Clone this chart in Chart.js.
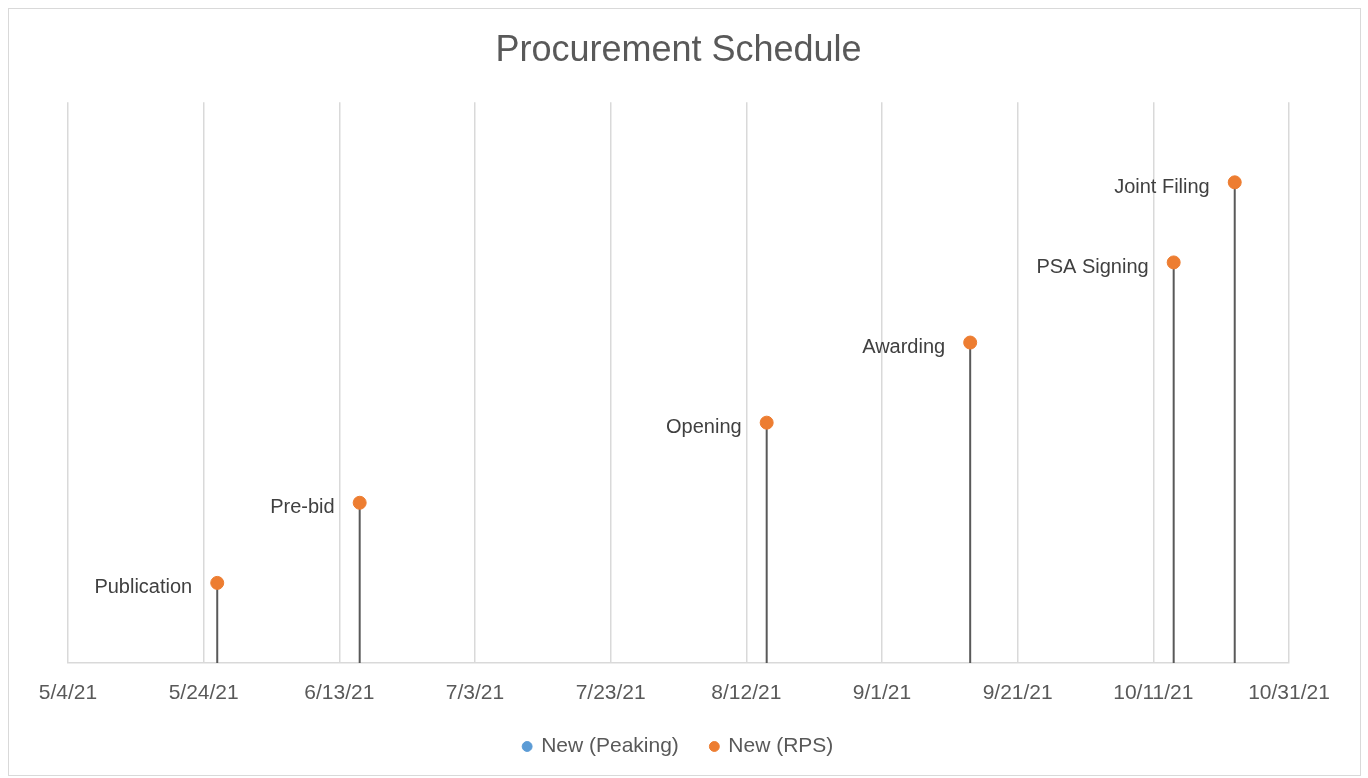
<!DOCTYPE html>
<html>
<head>
<meta charset="utf-8">
<script src="https://cdn.jsdelivr.net/npm/chart.js@4.4.1/dist/chart.umd.min.js"></script>
<style>
  body { margin: 0; background: #fff; }
  #wrap { position: relative; width: 1368px; height: 778px; }
  #frame { position: absolute; left: 8px; top: 8px; width: 1351px; height: 766px; border: 1px solid #d9d9d9; pointer-events: none; }
</style>
</head>
<body>
<div id="wrap">
  <canvas id="chart" width="1368" height="778"></canvas>
  <div id="frame"></div>
</div>
<script>
const axisStart = '2021-05-04';
const axisDays = 180;
const tickStep = 20;

const eventNames = ['Publication', 'Pre-bid', 'Opening', 'Awarding', 'PSA Signing', 'Joint Filing'];
const eventDates = ['2021-05-26', '2021-06-16', '2021-08-15', '2021-09-14', '2021-10-14', '2021-10-23'];
const rpsLevels = [1, 2, 3, 4, 5, 6];

const peakingDates = [];
const peakingLevels = [];

const DAY = 86400000;
const startMs = Date.parse(axisStart + 'T00:00:00Z');
const dayOffset = (s) => Math.round((Date.parse(s + 'T00:00:00Z') - startMs) / DAY);
const fmtDay = (off) => {
  const d = new Date(startMs + off * DAY);
  return (d.getUTCMonth() + 1) + '/' + d.getUTCDate() + '/' + String(d.getUTCFullYear()).slice(2);
};

const rpsPoints = eventDates.map((d, i) => ({ x: dayOffset(d), y: rpsLevels[i] }));
const peakingPoints = peakingDates.map((d, i) => ({ x: dayOffset(d), y: peakingLevels[i] }));

// vertical drop lines from each milestone down to the axis
const dropLines = {
  id: 'dropLines',
  beforeDatasetsDraw(chart) {
    const { ctx, scales: { y } } = chart;
    ctx.save();
    ctx.strokeStyle = '#595959';
    ctx.lineWidth = 2;
    chart.data.datasets.forEach((ds, i) => {
      chart.getDatasetMeta(i).data.forEach((pt) => {
        ctx.beginPath();
        ctx.moveTo(pt.x, pt.y);
        ctx.lineTo(pt.x, y.getPixelForValue(0));
        ctx.stroke();
      });
    });
    ctx.restore();
  }
};

// milestone names left of each point
const pointLabels = {
  id: 'pointLabels',
  afterDatasetsDraw(chart) {
    const { ctx } = chart;
    const meta = chart.getDatasetMeta(1);
    ctx.save();
    ctx.font = '20px "Liberation Sans", Arial, sans-serif';
    ctx.fillStyle = '#404040';
    ctx.textAlign = 'right';
    ctx.textBaseline = 'middle';
    meta.data.forEach((pt, i) => {
      ctx.fillText(eventNames[i], pt.x - 25, pt.y + 5);
    });
    ctx.restore();
  }
};

new Chart(document.getElementById('chart'), {
  type: 'scatter',
  data: {
    datasets: [
      {
        label: 'New (Peaking)',
        data: peakingPoints,
        backgroundColor: '#5B9BD5',
        borderColor: '#5B9BD5',
        pointRadius: 6.5
      },
      {
        label: 'New (RPS)',
        data: rpsPoints,
        backgroundColor: '#ED7D31',
        borderColor: '#ED7D31',
        pointRadius: 6.5,
        pointHoverRadius: 6.5
      }
    ]
  },
  options: {
    responsive: false,
    animation: false,
    layout: { padding: { left: 68, right: 79, top: 0, bottom: 11 } },
    plugins: {
      title: {
        display: true,
        text: 'Procurement Schedule',
        color: '#595959',
        font: { family: '"Liberation Sans", Arial, sans-serif', size: 36, weight: 'normal' },
        padding: { top: 29, bottom: 30 }
      },
      legend: {
        position: 'bottom',
        labels: {
          usePointStyle: true,
          boxWidth: 7,
          boxHeight: 7,
          padding: 32,
          color: '#595959',
          font: { family: '"Liberation Sans", Arial, sans-serif', size: 21 }
        }
      },
      tooltip: { enabled: false }
    },
    scales: {
      x: {
        type: 'linear',
        min: 0,
        max: axisDays,
        afterFit: (scale) => { scale.height = 41; },
        grid: { color: '#d9d9d9', lineWidth: 1.5, drawTicks: false },
        border: { color: '#d9d9d9', width: 1.5 },
        ticks: {
          stepSize: tickStep,
          autoSkip: false,
          maxRotation: 0,
          padding: 18,
          color: '#595959',
          font: { family: '"Liberation Sans", Arial, sans-serif', size: 21 },
          callback: (v) => fmtDay(v)
        }
      },
      y: {
        display: false,
        min: 0,
        max: 7
      }
    }
  },
  plugins: [dropLines, pointLabels]
});
</script>
</body>
</html>
